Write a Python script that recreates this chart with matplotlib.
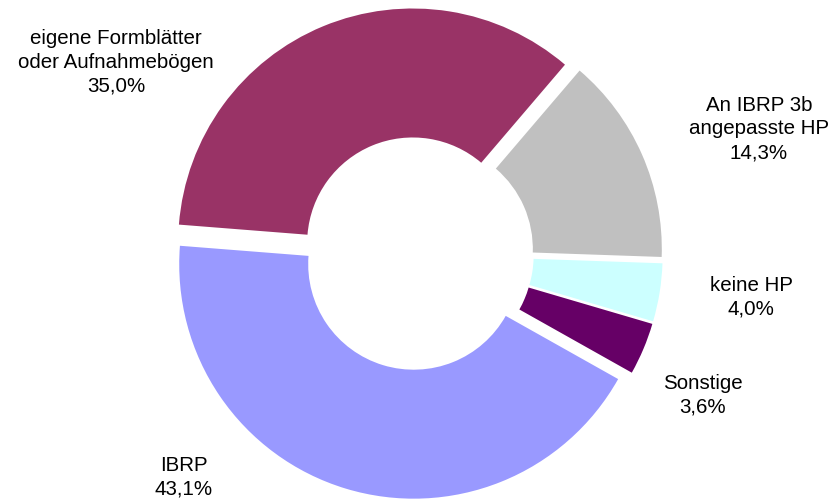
import matplotlib.pyplot as plt

# Data
categories = [
    "eigene Formblätter\noder Aufnahmebögen",
    "An IBRP 3b\nangepasste HP",
    "keine HP",
    "Sonstige",
    "IBRP",
]
shares = [35.0, 14.3, 4.0, 3.6, 43.1]
colors = ["#993366", "#C0C0C0", "#CCFFFF", "#660066", "#9999FF"]

# label anchor points in figure pixels (x, y from top)
label_pos = [(116, 62), (759, 129), (751, 297), (703, 395), (184, 477)]

W, H = 835, 500
cx, cy, R = 417, 253.4, 234.5  # pie centre / radius in pixels

plt.rcParams["font.family"] = ["Liberation Sans", "DejaVu Sans"]

fig = plt.figure(figsize=(W / 100, H / 100), dpi=100)
ax = fig.add_axes([0, 0, 1, 1])

ax.pie(
    shares,
    colors=colors,
    startangle=175.5,
    counterclock=False,
    explode=[0.048] * len(shares),
    radius=1,
    wedgeprops=dict(width=0.55, linewidth=0),
)

# one data unit = R pixels, pie centred at (cx, cy)
ax.set_xlim(-cx / R, (W - cx) / R)
ax.set_ylim(-(H - cy) / R, cy / R)
ax.set_aspect("auto")
ax.axis("off")

for name, val, (px, py) in zip(categories, shares, label_pos):
    txt = f"{name}\n{val:.1f}%".replace(".", ",")
    fig.text(px / W, 1 - py / H, txt, ha="center", va="center",
             fontsize=14.8, linespacing=1.32, color="black")

fig.savefig("out.png", dpi=100, facecolor="white")
